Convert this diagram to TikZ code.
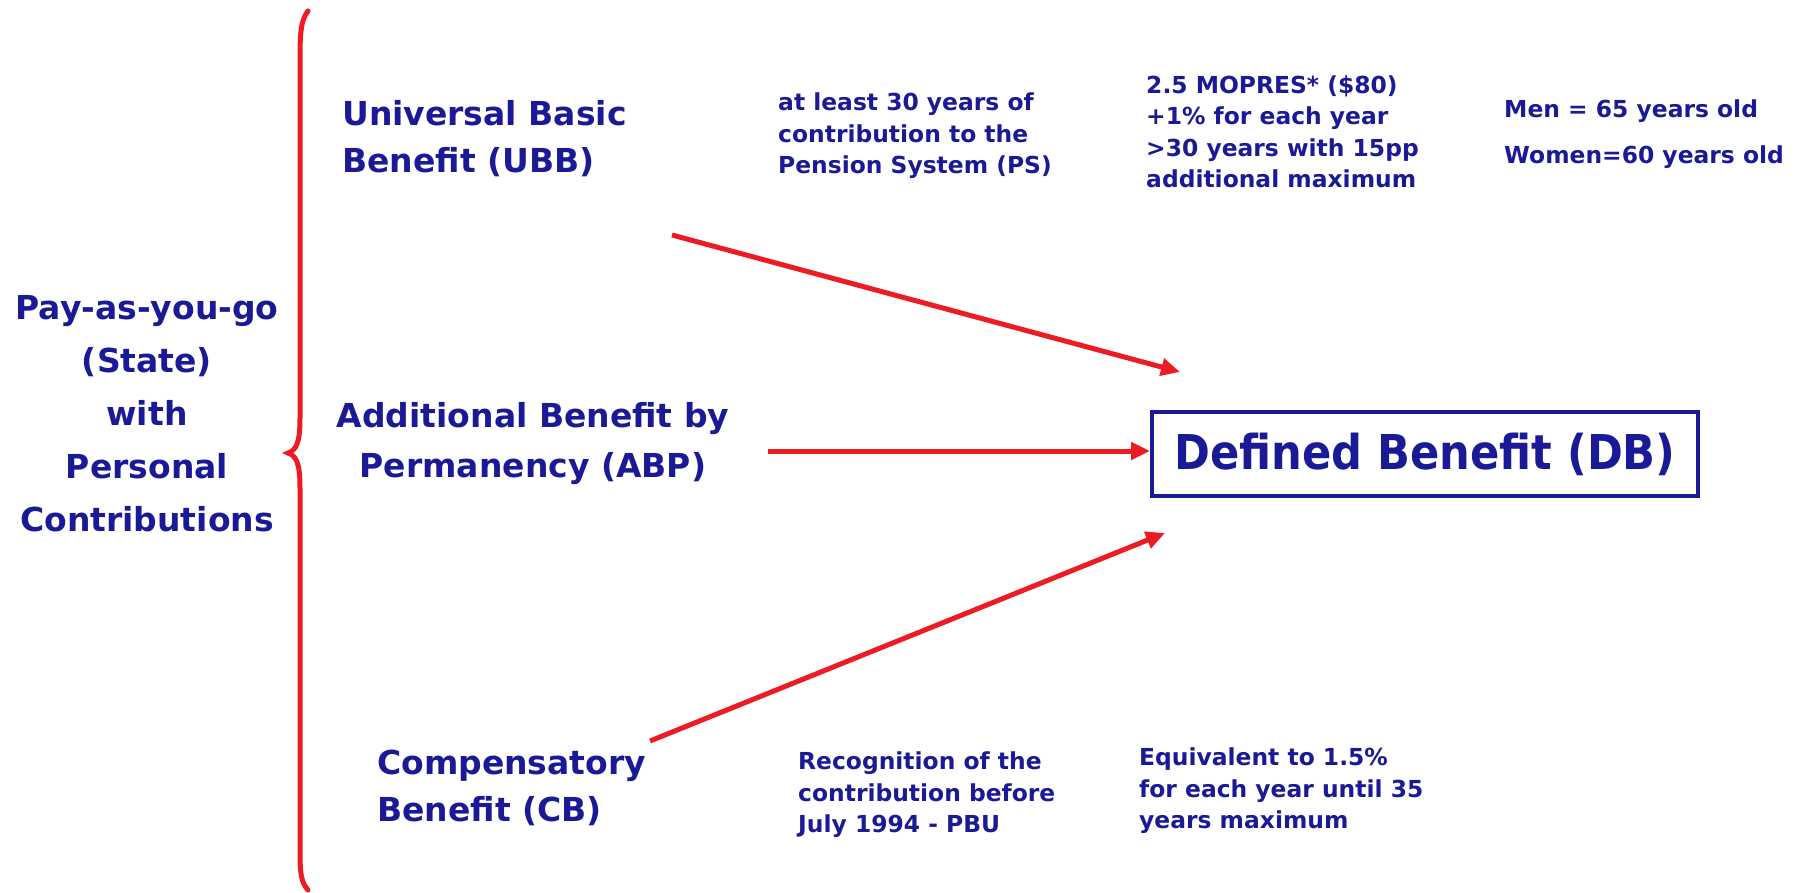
\documentclass[tikz,border=0pt]{standalone}
\usepackage{fontspec}
\usetikzlibrary{arrows.meta}
\newfontfamily\lblfont{DejaVu Sans Bold}
\newfontfamily\boxfont{DejaVu Sans Condensed Bold}
\definecolor{navy}{RGB}{26,26,150}
\definecolor{redline}{RGB}{237,28,36}

\begin{document}
\begin{tikzpicture}[x=1pt,y=-1pt,
  benefit/.style={text=navy,font=\lblfont\fontsize{33}{47}\selectfont,inner sep=0pt},
  note/.style={text=navy,font=\lblfont\fontsize{23.4}{31.5}\selectfont,inner sep=0pt,align=left,anchor=west},
  link/.style={draw=redline,line width=5pt,-{Triangle[length=19pt,width=17pt]}},
]
\useasboundingbox (0,0) rectangle (1801,893);

% scheme on the left
\node[benefit,align=center,font=\lblfont\fontsize{33}{53}\selectfont] (payg) at (147,414)
  {Pay-as-you-go\\(State)\\with\\Personal\\Contributions};

% curly brace grouping the three benefits
\draw[redline,line width=5pt,line cap=round]
  (308,11) .. controls (301,20) and (300,32) .. (300,60)
  -- (300,418) .. controls (300,444) and (296,450) .. (288,453)
  .. controls (296,456) and (300,462) .. (300,488)
  -- (300,850) .. controls (300,874) and (301,882) .. (308,890);

% the three benefits
\node[benefit,align=left,anchor=west] (ubb) at (342,139) {Universal Basic\\Benefit (UBB)};
\node[benefit,align=center,font=\lblfont\fontsize{33}{50}\selectfont] (abp) at (533,444) {Additional Benefit by\\Permanency (ABP)};
\node[benefit,align=left,anchor=west] (cb) at (377,788) {Compensatory\\Benefit (CB)};

% result
\node[draw=navy,line width=4pt,text=navy,font=\boxfont\fontsize{48}{56}\selectfont,
      minimum width=546pt,minimum height=84pt,inner sep=0pt] (db) at (1425,454)
  {Defined Benefit (DB)};

% conditions
\node[note] (ubbcond) at (778,136) {at least 30 years of\\contribution to the\\Pension System (PS)};
\node[note] (ubbamount) at (1146,132) {2.5 MOPRES* (\$80)\\+1\% for each year\\>30 years with 15pp\\additional maximum};
\node[note,font=\lblfont\fontsize{23.4}{46}\selectfont] (ages) at (1504,134) {Men = 65 years old\\Women=60 years old};
\node[note] (cbcond) at (798,795) {Recognition of the\\contribution before\\July 1994 - PBU};
\node[note] (cbamount) at (1139,791) {Equivalent to 1.5\%\\for each year until 35\\years maximum};

% connectors
\coordinate (ubbout) at (672,235);
\coordinate (ubbin) at (1180,372);
\coordinate (abpout) at (768,451);
\coordinate (cbout) at (650,741);
\coordinate (cbin) at (1165,533);
\draw[link] (ubbout) -- (ubbin);
\draw[link] (abpout) -- (abpout -| db.west);
\draw[link] (cbout) -- (cbin);
\end{tikzpicture}
\end{document}
